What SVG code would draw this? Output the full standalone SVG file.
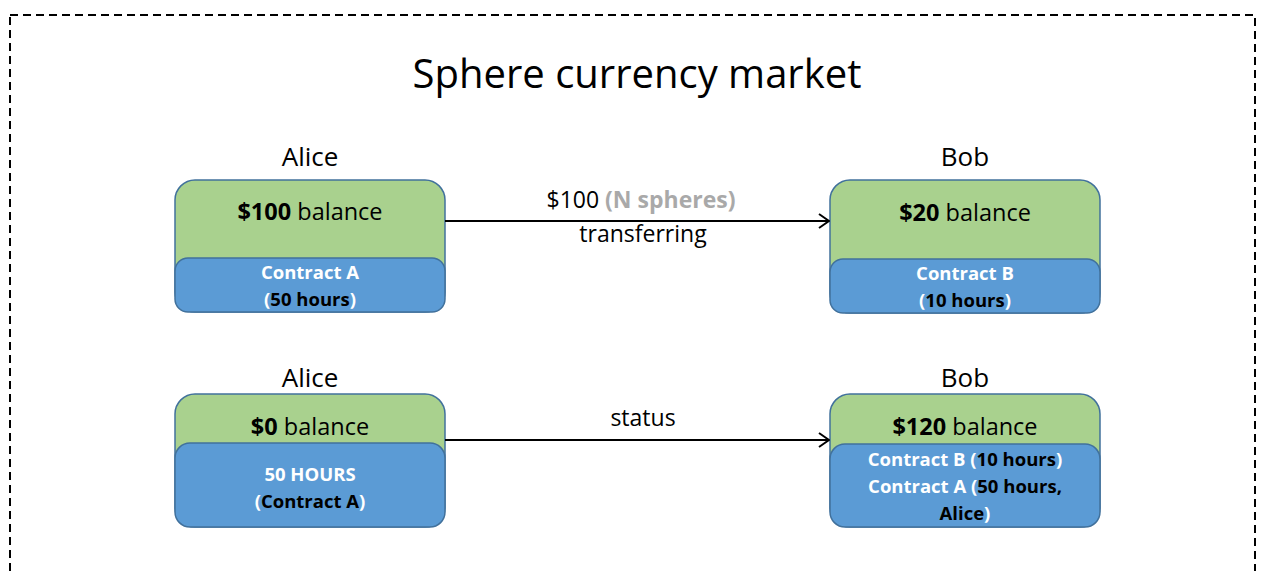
<svg xmlns="http://www.w3.org/2000/svg" width="1264" height="571" viewBox="0 0 1264 571">
<defs>
<style>
.t{font-family:"Open Sans","Liberation Sans",sans-serif;fill:#000;}
.title{font-size:40px;}
.name{font-size:26px;}
.bal{font-size:23.5px;}
.w{font-family:"Open Sans","Liberation Sans",sans-serif;font-weight:bold;font-size:18.5px;fill:#fff;}
.k{fill:#000;}
.g{fill:#a9a9a9;font-weight:bold;}
.lbl{font-size:23px;}
.green{fill:#a9d18e;stroke:#41719c;stroke-width:1.5;}
.blue{fill:#5b9bd5;stroke:#41719c;stroke-width:1.5;}
.edge{stroke:#000;stroke-width:2;fill:none;}
</style>
<marker id="arr" viewBox="0 0 12 16" refX="11" refY="8" markerWidth="12" markerHeight="16" markerUnits="userSpaceOnUse" orient="auto">
<path d="M1,1 L11,8 L1,15" fill="none" stroke="#000" stroke-width="2"/>
</marker>
</defs>
<rect x="10" y="15" width="1245" height="580" fill="none" stroke="#000" stroke-width="2" stroke-dasharray="8,5"/>
<text class="t title" x="637" y="88" text-anchor="middle">Sphere currency market</text>

<g id="alice1">
<text class="t name" x="310" y="166" text-anchor="middle">Alice</text>
<rect class="green" x="175" y="180" width="270" height="132" rx="20"/>
<rect class="blue" x="175" y="258" width="270" height="54" rx="13"/>
<text class="t bal" x="310" y="220" text-anchor="middle"><tspan font-weight="bold">$100</tspan> balance</text>
<text class="w" x="310" y="279" text-anchor="middle">Contract A</text>
<text class="w" x="310" y="306" text-anchor="middle">(<tspan class="k">50 hours</tspan>)</text>
</g>

<g id="bob1">
<text class="t name" x="965" y="166" text-anchor="middle">Bob</text>
<rect class="green" x="830" y="180" width="270" height="133" rx="20"/>
<rect class="blue" x="830" y="259" width="270" height="54" rx="13"/>
<text class="t bal" x="965" y="221" text-anchor="middle"><tspan font-weight="bold">$20</tspan> balance</text>
<text class="w" x="965" y="280" text-anchor="middle">Contract B</text>
<text class="w" x="965" y="307" text-anchor="middle">(<tspan class="k">10 hours</tspan>)</text>
</g>

<g id="alice2">
<text class="t name" x="310" y="387" text-anchor="middle">Alice</text>
<rect class="green" x="175" y="394" width="270" height="133" rx="20"/>
<rect class="blue" x="175" y="443" width="270" height="84" rx="15"/>
<text class="t bal" x="310" y="435" text-anchor="middle"><tspan font-weight="bold">$0</tspan> balance</text>
<text class="w" x="310" y="481" text-anchor="middle">50 HOURS</text>
<text class="w" x="310" y="508" text-anchor="middle">(<tspan class="k">Contract A</tspan>)</text>
</g>

<g id="bob2">
<text class="t name" x="965" y="387" text-anchor="middle">Bob</text>
<rect class="green" x="830" y="394" width="270" height="133" rx="20"/>
<rect class="blue" x="830" y="444" width="270" height="83" rx="15"/>
<text class="t bal" x="965" y="435" text-anchor="middle"><tspan font-weight="bold">$120</tspan> balance</text>
<text class="w" x="965" y="466" text-anchor="middle">Contract B (<tspan class="k">10 hours</tspan>)</text>
<text class="w" x="965" y="493" text-anchor="middle">Contract A (<tspan class="k">50 hours,</tspan></text>
<text class="w" x="965" y="520" text-anchor="middle"><tspan class="k">Alice</tspan>)</text>
</g>

<g id="connectors">
<line class="edge" x1="445" y1="221" x2="829" y2="221" marker-end="url(#arr)"/>
<text class="t lbl" x="641" y="208" text-anchor="middle">$100 <tspan class="g">(N spheres)</tspan></text>
<text class="t lbl" x="643" y="242" text-anchor="middle">transferring</text>
<line class="edge" x1="445" y1="440" x2="829" y2="440" marker-end="url(#arr)"/>
<text class="t lbl" x="643" y="426" text-anchor="middle">status</text>
</g>
</svg>
